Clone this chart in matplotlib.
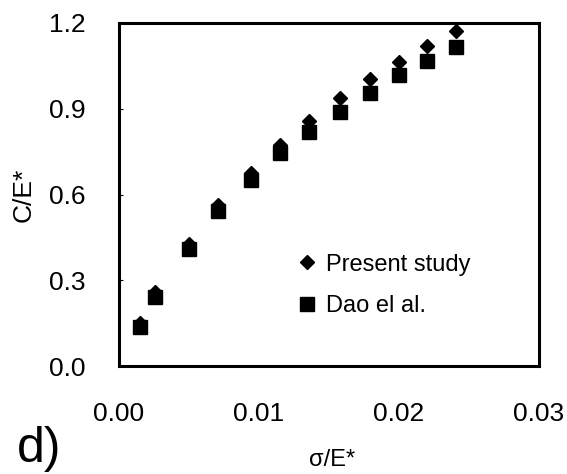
import matplotlib
matplotlib.use("Agg")
import matplotlib.pyplot as plt

plt.rcParams['font.family'] = ['Liberation Sans', 'DejaVu Sans']

x_vals = [0.0015, 0.0026, 0.0050, 0.0071, 0.0094, 0.0115, 0.0136, 0.0158, 0.0179, 0.0200, 0.0220, 0.0241]
present_study = [0.150, 0.259, 0.427, 0.563, 0.675, 0.773, 0.857, 0.938, 1.004, 1.064, 1.120, 1.172]
dao_et_al = [0.136, 0.241, 0.409, 0.543, 0.651, 0.745, 0.820, 0.890, 0.955, 1.018, 1.068, 1.117]

x_ticks = [0.00, 0.01, 0.02, 0.03]
x_tick_labels = ["0.00", "0.01", "0.02", "0.03"]
y_ticks = [0.0, 0.3, 0.6, 0.9, 1.2]
y_tick_labels = ["0.0", "0.3", "0.6", "0.9", "1.2"]

fig = plt.figure(figsize=(5.67, 4.74), dpi=100)
ax = fig.add_axes([0.2099, 0.2278, 0.7407, 0.7237])

ax.plot(x_vals, present_study, linestyle='none', marker='D', ms=7.6,
        color='black', mec='black', label='Present study', zorder=3)
ax.plot(x_vals, dao_et_al, linestyle='none', marker='s', ms=9.7,
        color='black', mec='black', label='Dao el al.', zorder=4)

ax.set_xlim(0, 0.03)
ax.set_ylim(0, 1.2)
ax.set_xticks(x_ticks)
ax.set_xticklabels(x_tick_labels)
ax.set_yticks(y_ticks)
ax.set_yticklabels(y_tick_labels)

ax.tick_params(axis='x', length=0, pad=26, labelsize=19)
ax.tick_params(axis='y', direction='in', length=3, width=0.8, pad=24, labelsize=19)

for sp in ax.spines.values():
    sp.set_linewidth(2.2)

ax.set_ylabel('C/E*', fontsize=19, labelpad=10)
fig.text(0.5855, 0.0295, 'σ/E*', fontsize=17, ha='center', va='center')
fig.text(0.03, 0.004, 'd)', fontsize=36, ha='left', va='bottom')

leg = ax.legend(loc='upper left', bbox_to_anchor=(0.4307, 0.328), frameon=False,
                fontsize=17, handlelength=0.6, handletextpad=0.5, borderpad=0,
                borderaxespad=0, labelspacing=0.82, numpoints=1)

fig.savefig('out.png', dpi=100)
